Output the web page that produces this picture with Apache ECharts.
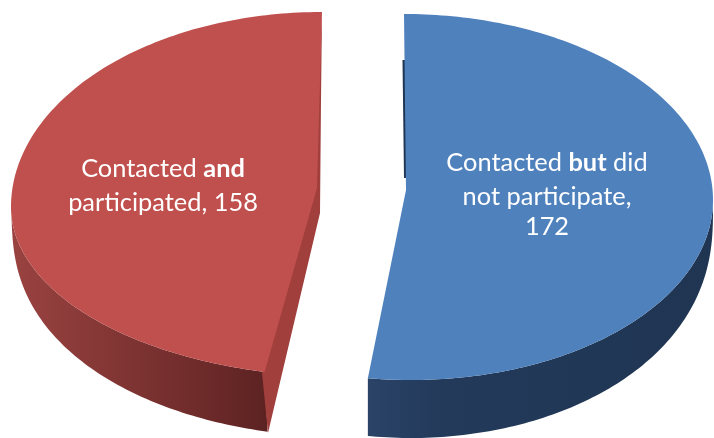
<!DOCTYPE html>
<html>
<head>
<meta charset="utf-8">
<style>
  html, body { margin: 0; padding: 0; background: #fff; }
  #chart { width: 714px; height: 438px; }
</style>
<script src="https://cdn.jsdelivr.net/npm/echarts@6/dist/echarts.min.js"></script>
</head>
<body>
<div id="chart"></div>
<script>
const categories = ["Contacted but did not participate", "Contacted and participated"];
const values = [172, 158];
const labelLines = [
  ["Contacted {b|but} did", "not participate,", "172"],
  ["Contacted {b|and}", "participated, 158"],
];

const total = values.reduce((a, b) => a + b, 0);
const rad = (d) => (d * Math.PI) / 180;

// the source is a stretched 3D pie, so the near and far half of each slice get their own ellipse
const shapes = [
  {
    tipTop: [404, 14], apex: [406, 190], cy: 200, depth: 58, dx: 0, phiScale: 0.993,
    far: { cx: 404, rx: 309, ry: 186 }, near: { cx: 411, rx: 302, ry: 180 },
    top: "#4F81BD", wall: ["#2A4367", "#233A5B", "#1F3552"],
    sliver: [[402.5, 60], [404, 178], [407, 178], [405, 60]], sliverColor: "#1F3552",
    labelX: 547, labelY: [163, 197, 227],
  },
  {
    tipTop: [322, 12], apex: [317, 188], cy: 207, depth: 60, dx: 3, phiScale: 0.922,
    far: { cx: 322, rx: 311, ry: 195 }, near: { cx: 346, rx: 335, ry: 170 },
    top: "#C0504D", wall: ["#5C2222", "#6A2928", "#9A4341"],
    sliver: [[322, 12], [314, 185], [262, 373], [268, 433], [320, 213], [321, 100]], sliverColor: "#A03F3C",
    labelX: 163, labelY: [169, 203],
  },
];

// deg runs clockwise from 12 o'clock
function rim(s, deg) {
  const d = ((deg % 360) + 360) % 360;
  if (d > 90 && d < 270) {
    const phi = d < 180 ? d : 270 - (270 - d) * s.phiScale;
    return [s.near.cx + s.near.rx * Math.sin(rad(phi)), s.cy - s.near.ry * Math.cos(rad(phi))];
  }
  return [s.far.cx + s.far.rx * Math.sin(rad(d)), s.cy - s.far.ry * Math.cos(rad(d))];
}

function sweep(from, to, fn) {
  const pts = [];
  for (let a = from; a <= to; a += 1) pts.push(fn(a));
  pts.push(fn(to));
  return pts;
}

function renderSlice(params, api) {
  const i = params.dataIndex;
  const s = shapes[i];
  let start = 0;
  for (let k = 0; k < i; k++) start += (values[k] / total) * 360;
  const end = start + (api.value(0) / total) * 360;

  // outer wall only on the part of the rim facing the viewer
  const wallFrom = Math.max(start, 90);
  const wallTo = Math.min(end, 270);
  const upper = sweep(wallFrom, wallTo, (a) => rim(s, a));
  const lower = sweep(wallFrom, wallTo, (a) => {
    const p = rim(s, a);
    const drop = s.depth * Math.pow(Math.abs(Math.cos(rad(a))), 0.35);
    return [p[0] + (s.dx * drop) / s.depth, p[1] + drop];
  }).reverse();

  const outline = sweep(start, end, (a) => rim(s, a));
  const surface = i === 0
    ? [s.apex, s.tipTop].concat(outline.slice(1))
    : [s.apex].concat(outline.slice(0, -1), [s.tipTop]);

  // wall stops are listed from the cut edge outwards
  const grad = i === 0 ? [0, 0, 1, 0] : [1, 0, 0, 0];
  const children = [
    {
      type: "polygon",
      shape: { points: upper.concat(lower) },
      style: {
        fill: new echarts.graphic.LinearGradient(grad[0], grad[1], grad[2], grad[3], [
          { offset: 0, color: s.wall[0] },
          { offset: 0.2, color: s.wall[1] },
          { offset: 1, color: s.wall[2] },
        ]),
      },
    },
    { type: "polygon", shape: { points: s.sliver }, style: { fill: s.sliverColor } },
    { type: "polygon", shape: { points: surface }, style: { fill: s.top } },
  ];

  labelLines[i].forEach((line, n) => {
    children.push({
      type: "text",
      x: s.labelX,
      y: s.labelY[n],
      style: {
        text: line,
        fill: "#fff",
        fontFamily: "Lato",
        fontSize: 25.4,
        align: "center",
        verticalAlign: "middle",
        rich: { b: { fontFamily: "Lato", fontSize: 25.4, fontWeight: "bold", fill: "#fff" } },
      },
    });
  });

  return { type: "group", children };
}

const chart = echarts.init(document.getElementById("chart"), null, { renderer: "canvas" });
chart.setOption({
  animation: false,
  backgroundColor: "#fff",
  series: [
    {
      type: "custom",
      coordinateSystem: "none",
      data: categories.map((name, i) => ({ name, value: [values[i]] })),
      renderItem: renderSlice,
    },
  ],
});
</script>
</body>
</html>
